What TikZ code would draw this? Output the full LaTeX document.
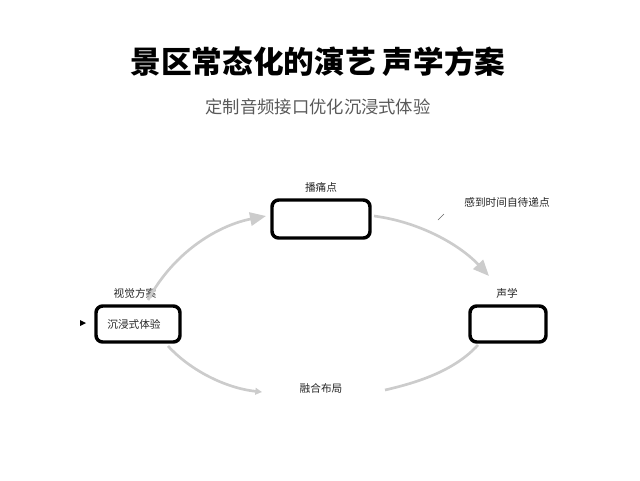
\documentclass[tikz,border=0pt]{standalone}
\usepackage{fontspec}
\newfontfamily\cjk{Noto Sans CJK SC}
\usetikzlibrary{arrows.meta}
\begin{document}
\begin{tikzpicture}[x=0.75pt,y=-0.75pt,font=\cjk,
  box/.style={draw=black,line width=2.6pt,rounded corners=5pt,fill=white},
  lbl/.style={font=\cjk\fontsize{8}{9}\selectfont,text=black!85},
  flow/.style={draw=black!20,line width=2pt},
  tip/.style={-{Triangle[length=12pt,width=10pt]}}]
\useasboundingbox (0,0) rectangle (640,480);
\node (title) at (318,62) {\fontsize{23}{26}\selectfont\bfseries 景区常态化的演艺 声学方案};
\node (sub) at (318,107) [text=black!65] {\fontsize{13}{15}\selectfont 定制音频接口优化沉浸式体验};
\draw[box] (272,200) rectangle (370,238) node[midway] (top) {};
\draw[box] (96,306) rectangle (180,342) node[midway] (left) {};
\draw[box] (470,306) rectangle (546,342) node[midway] (right) {};
\node[lbl] (ltext) at (134,324) {沉浸式体验};
\node[lbl] (toplbl) at (321,187) {播痛点};
\node[lbl] (leftlbl) at (135,293) {视觉方案};
\node[lbl] (rightlbl) at (507,293) {声学};
\node[lbl] (botlbl) at (321,388) {融合布局};
\node[lbl] (note) at (507,202) {感到时间自待递点};
\coordinate (tick1) at (438,220);
\coordinate (tick2) at (444,214);
\draw[black!60,line width=0.4pt] (tick1) -- (tick2);
\coordinate (dot) at (86,323);
\fill[black] (dot) -- ++(-6,-3) -- ++(0,6) -- cycle;
\coordinate (a1) at (148,300);
\coordinate (a2) at (266,216);
\draw[flow,tip] (a1) .. controls (175,250) and (220,225) .. (a2);
\coordinate (b1) at (374,216);
\coordinate (b2) at (489,276);
\draw[flow,tip] (b1) .. controls (420,222) and (460,245) .. (b2);
\coordinate (c1) at (478,345);
\coordinate (c2) at (385,390);
\draw[flow] (c1) .. controls (455,370) and (420,382) .. (c2);
\coordinate (d1) at (168,346);
\coordinate (d2) at (262,392);
\draw[flow,-{Triangle[length=5pt,width=5pt]}] (d1) .. controls (190,370) and (225,388) .. (d2);
\end{tikzpicture}
\end{document}
